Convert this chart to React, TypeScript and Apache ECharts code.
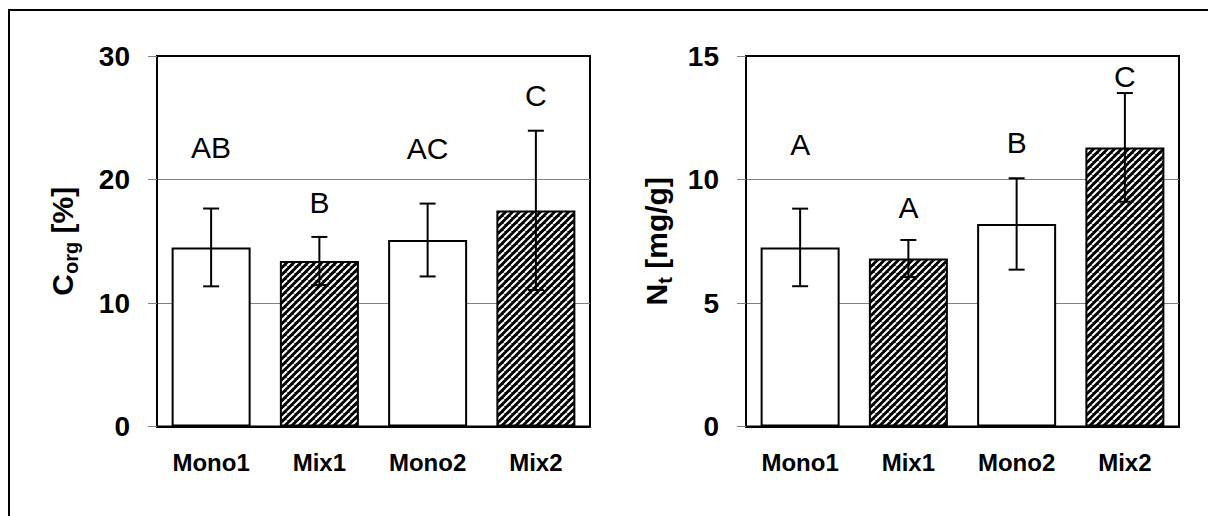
import React, { useEffect, useRef } from 'react';
import * as echarts from 'echarts';

const categories = ['Mono1', 'Mix1', 'Mono2', 'Mix2'];
const hatched = [false, true, false, true];

const corgMean = [14.5, 13.4, 15.1, 17.5];
const corgErr = [3.15, 1.95, 2.95, 6.45];
const corgLetters = ['AB', 'B', 'AC', 'C'];
const corgLetterPos = [22.6, 18.1, 22.5, 26.8];
const corgAxis = { min: 0, max: 30, interval: 10 };

const ntMean = [7.25, 6.8, 8.2, 11.3];
const ntErr = [1.57, 0.75, 1.85, 2.2];
const ntLetters = ['A', 'A', 'B', 'C'];
const ntLetterPos = [11.4, 8.85, 11.5, 14.15];
const ntAxis = { min: 0, max: 15, interval: 5 };

const FONT = '"Liberation Sans", Arial, Helvetica, sans-serif';

function makeHatch(): HTMLCanvasElement {
  const n = 7;
  const c = document.createElement('canvas');
  c.width = n;
  c.height = n;
  const ctx = c.getContext('2d')!;
  ctx.fillStyle = '#000';
  ctx.fillRect(0, 0, n, n);
  ctx.strokeStyle = '#fff';
  ctx.lineWidth = 2;
  for (const k of [-n, 0, n]) {
    ctx.beginPath();
    ctx.moveTo(k, n);
    ctx.lineTo(k + n, 0);
    ctx.stroke();
  }
  return c;
}

export default function App() {
  const ref = useRef<HTMLDivElement>(null);

  useEffect(() => {
    if (!ref.current) return;
    const chart = echarts.init(ref.current, undefined, { renderer: 'svg' });
    const hatch = makeHatch();
    const hatchFill: any = { image: hatch, repeat: 'repeat', imageWidth: 7, imageHeight: 7 };

    const nameRich = {
      b: { fontSize: 30, fontWeight: 'bold', fontFamily: FONT, color: '#000', lineHeight: 38 },
      s: { fontSize: 20, fontWeight: 'bold', fontFamily: FONT, color: '#000', lineHeight: 20, verticalAlign: 'bottom' },
    };

    const makeX = (gi: number) => ({
      type: 'category',
      gridIndex: gi,
      data: categories,
      boundaryGap: true,
      axisLine: { show: true, lineStyle: { color: '#000', width: 2 } },
      axisTick: { show: false },
      axisLabel: { fontSize: 24, fontWeight: 'bold', fontFamily: FONT, color: '#000', margin: 24 },
      splitLine: { show: false },
    });

    const makeY = (gi: number, ax: any, name: string, gap: number) => ({
      type: 'value',
      gridIndex: gi,
      min: ax.min,
      max: ax.max,
      interval: ax.interval,
      name,
      nameLocation: 'middle',
      nameRotate: 90,
      nameGap: gap,
      nameTextStyle: { rich: nameRich },
      axisLine: { show: true, lineStyle: { color: '#000', width: 2 } },
      axisTick: { show: true, length: 9, lineStyle: { color: '#808080', width: 1 } },
      axisLabel: { fontSize: 28, fontWeight: 'bold', fontFamily: FONT, color: '#000', margin: 27 },
      splitLine: { show: true, showMinLine: false, showMaxLine: false, lineStyle: { color: '#808080', width: 1 } },
    });

    const barSeries = (gi: number, vals: number[]) => ({
      type: 'bar',
      xAxisIndex: gi,
      yAxisIndex: gi,
      barWidth: 79,
      data: vals.map((v, i) => ({
        value: v,
        itemStyle: {
          color: hatched[i] ? hatchFill : '#fff',
          borderColor: '#000',
          borderWidth: 2,
        },
      })),
    });

    const errSeries = (gi: number, mean: number[], err: number[]) => ({
      type: 'custom',
      xAxisIndex: gi,
      yAxisIndex: gi,
      encode: { x: 0, y: 1 },
      data: mean.map((m, i) => [i, m, err[i]]),
      renderItem: (params: any, api: any) => {
        const x = api.value(0);
        const m = api.value(1);
        const e = api.value(2);
        const top = api.coord([x, m + e]);
        const bot = api.coord([x, m - e]);
        const hw = 8;
        const st = { stroke: '#000', lineWidth: 2 };
        return {
          type: 'group',
          children: [
            { type: 'line', shape: { x1: top[0], y1: top[1], x2: bot[0], y2: bot[1] }, style: st },
            { type: 'line', shape: { x1: top[0] - hw, y1: top[1], x2: top[0] + hw, y2: top[1] }, style: st },
            { type: 'line', shape: { x1: bot[0] - hw, y1: bot[1], x2: bot[0] + hw, y2: bot[1] }, style: st },
          ],
        };
      },
      z: 5,
    });

    const letterSeries = (gi: number, letters: string[], pos: number[]) => ({
      type: 'custom',
      xAxisIndex: gi,
      yAxisIndex: gi,
      encode: { x: 0, y: 1 },
      data: pos.map((p, i) => [i, p]),
      renderItem: (params: any, api: any) => {
        const p = api.coord([api.value(0), api.value(1)]);
        return {
          type: 'text',
          x: p[0],
          y: p[1],
          style: {
            text: letters[params.dataIndex],
            fontSize: 30,
            fontFamily: FONT,
            fill: '#000',
            align: 'center',
            verticalAlign: 'middle',
          },
        };
      },
      z: 6,
    });

    chart.setOption({
      animation: false,
      backgroundColor: '#fff',
      graphic: [
        {
          type: 'rect',
          shape: { x: 9, y: 10, width: 1400, height: 800 },
          style: { fill: 'none', stroke: '#000', lineWidth: 2 },
          silent: true,
        },
      ],
      grid: [
        { left: 157, top: 56, width: 433, height: 370.5, show: true, borderColor: '#000', borderWidth: 2, backgroundColor: 'transparent' },
        { left: 746, top: 56, width: 433, height: 370.5, show: true, borderColor: '#000', borderWidth: 2, backgroundColor: 'transparent' },
      ],
      xAxis: [makeX(0), makeX(1)],
      yAxis: [
        makeY(0, corgAxis, '{b|C}{s|org}{b| [%]}', 76),
        makeY(1, ntAxis, '{b|N}{s|t}{b| [mg/g]}', 71),
      ],
      series: [
        barSeries(0, corgMean),
        errSeries(0, corgMean, corgErr),
        letterSeries(0, corgLetters, corgLetterPos),
        barSeries(1, ntMean),
        errSeries(1, ntMean, ntErr),
        letterSeries(1, ntLetters, ntLetterPos),
      ],
    });

    return () => chart.dispose();
  }, []);

  return (
    <div
      ref={ref}
      style={{ position: 'absolute', left: 0, top: 0, width: 1208, height: 516 }}
    />
  );
}
